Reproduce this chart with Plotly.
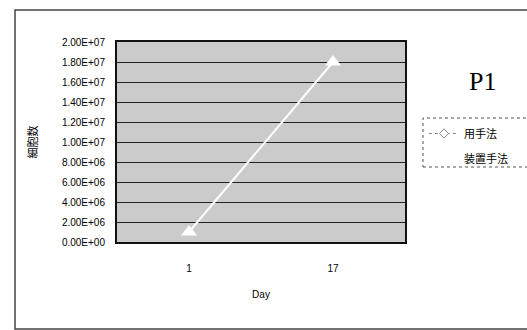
import plotly.graph_objects as go

days = ["1", "17"]
device_method = [1.0e6, 1.8e7]
manual_method = [None, None]
y_tick_vals = [0, 2e6, 4e6, 6e6, 8e6, 1e7, 1.2e7, 1.4e7, 1.6e7, 1.8e7, 2e7]
y_tick_text = ["0.00E+00", "2.00E+06", "4.00E+06", "6.00E+06", "8.00E+06",
               "1.00E+07", "1.20E+07", "1.40E+07", "1.60E+07", "1.80E+07", "2.00E+07"]

W, H = 527, 330
L, R, T, B = 117, 405, 42, 242
pw, ph = R - L, B - T

def px(x):
    return (x - L) / pw

def py(y):
    return (B - y) / ph

fig = go.Figure()
fig.add_trace(go.Scatter(
    x=days, y=manual_method, name="用手法", mode="lines+markers",
    line=dict(color="#888888", width=1, dash="dot"),
    marker=dict(symbol="diamond", size=7, color="white", line=dict(color="#888888", width=1)),
    legendgroup="a", connectgaps=False,
))
fig.add_trace(go.Scatter(
    x=days, y=device_method, name="装置手法", mode="lines+markers",
    line=dict(color="white", width=2),
    marker=dict(symbol="triangle-up", size=14, color="white", angleref="up", angle=0),
    legendgroup="b",
))

fig.update_layout(
    width=W, height=H,
    margin=dict(l=L, r=W - R, t=T, b=H - B),
    paper_bgcolor="white",
    plot_bgcolor="#cbcbcb",
    font=dict(family="Liberation Sans, Arial, sans-serif", size=10, color="black"),
    showlegend=True,
    legend=dict(
        x=px(424), y=py(119), xanchor="left", yanchor="top",
        bgcolor="rgba(0,0,0,0)", borderwidth=0,
        font=dict(family="Noto Sans CJK JP", size=11, color="black"),
        tracegroupgap=6, itemwidth=30,
    ),
    xaxis=dict(
        type="category", categoryorder="array", categoryarray=days,
        range=[-0.5, 1.5],
        showgrid=False, zeroline=False,
        showline=True, linecolor="#111111", linewidth=2, mirror=True,
        ticks="", ticklabelstandoff=16,
        tickfont=dict(size=10),
        title=dict(text="Day", font=dict(size=10), standoff=18),
    ),
    yaxis=dict(
        range=[0, 2e7], tickvals=y_tick_vals, ticktext=y_tick_text,
        showgrid=True, gridcolor="#222222", gridwidth=1,
        zeroline=False,
        showline=True, linecolor="#111111", linewidth=2, mirror=True,
        ticks="", ticklabelstandoff=8,
        tickfont=dict(size=10),
        title=dict(text="細胞数", font=dict(family="Noto Sans CJK JP", size=11), standoff=22),
    ),
    shapes=[
        dict(type="rect", xref="paper", yref="paper",
             x0=px(15), x1=px(540), y0=py(329), y1=py(10),
             line=dict(color="#444444", width=1.5), layer="below"),
        dict(type="rect", xref="paper", yref="paper",
             x0=px(423), x1=px(540), y0=py(167), y1=py(118),
             line=dict(color="#555555", width=1, dash="dot"), layer="below"),
    ],
    annotations=[
        dict(text="P1", xref="paper", yref="paper", x=px(482), y=py(81),
             xanchor="center", yanchor="middle", showarrow=False,
             font=dict(family="Liberation Serif, Times New Roman, serif", size=26, color="black")),
    ],
)

fig.write_html("out.html")
